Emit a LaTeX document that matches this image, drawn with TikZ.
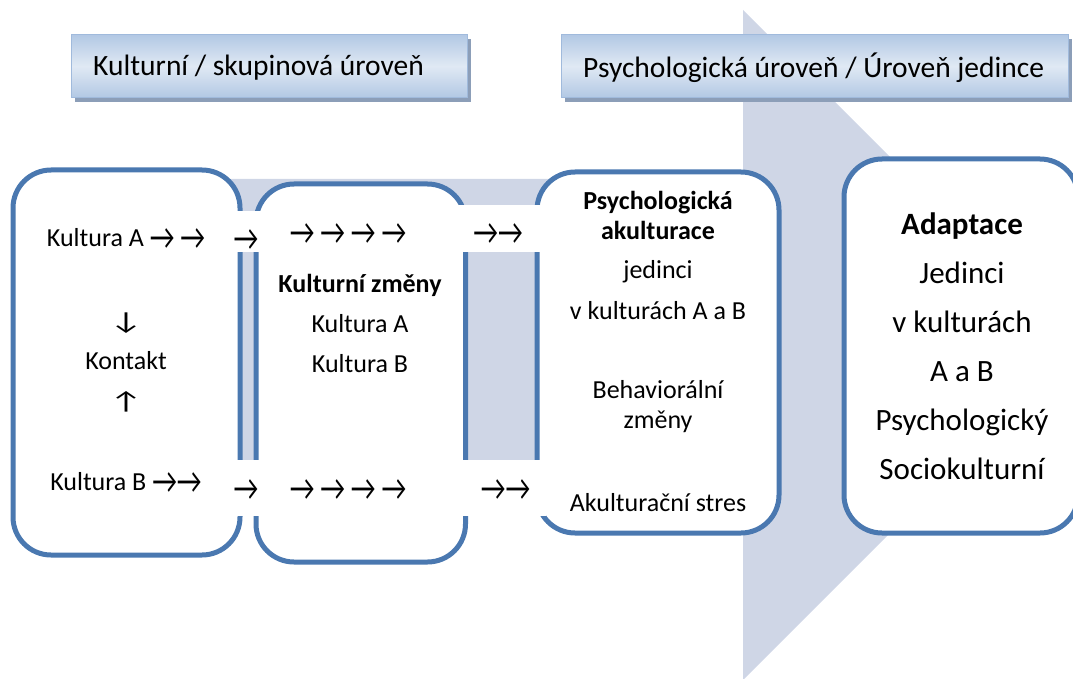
\documentclass[tikz,border=0pt]{standalone}
\usepackage{fontspec}
\usepackage{graphicx}
\setmainfont{Carlito}
\usetikzlibrary{positioning,shadows}
\definecolor{boxblue}{RGB}{74,120,176}
\definecolor{bandblue}{RGB}{207,214,230}
\definecolor{hdrlight}{RGB}{224,233,244}
\definecolor{hdrmid}{RGB}{178,200,228}
\definecolor{hdrline}{RGB}{160,186,220}
\definecolor{hdrshadow}{RGB}{140,158,184}
\tikzstyle{bigbox} = [rectangle, rounded corners=38pt, draw=boxblue, line width=5pt, fill=white]
\tikzstyle{header} = [rectangle, draw=hdrline, line width=1.2pt, top color=hdrmid, bottom color=hdrmid, middle color=hdrlight, minimum height=63pt, anchor=north west, drop shadow={shadow xshift=3pt, shadow yshift=-4pt, fill=hdrshadow, opacity=1}]
\tikzstyle{hdrtxt} = [inner sep=0pt, font=\fontsize{29.5}{35}\selectfont]
\tikzstyle{gap} = [rectangle, fill=white, inner sep=0pt]
\tikzstyle{txt} = [inner sep=0pt, align=center, font=\fontsize{26}{30}\selectfont]
\tikzstyle{bigtxt} = [inner sep=0pt, align=center, font=\fontsize{31}{49}\selectfont]
\newcommand{\sip}{\raisebox{-3.5pt}{\scalebox{1.05}[1.4]{→}}}
\newcommand{\sipdolu}{\scalebox{1.4}[0.95]{↓}}
\newcommand{\sipnahoru}{\scalebox{1.4}[0.95]{↑}}

\begin{document}
\begin{tikzpicture}[x=1pt, y=-1pt]
    \useasboundingbox (0,0) rectangle (1073,679);
    % velka sipka v pozadi
    \fill [bandblue] (30,179) -- (743,179) -- (743,10) -- (1078,345) -- (743,680) -- (743,511) -- (30,511) -- cycle;

    \node (hdrkult) [header, minimum width=396pt] at (71,34) {};
    \node (hdrkulttxt) [hdrtxt, right=22pt of hdrkult.west, yshift=-2pt] {Kulturní / skupinová úroveň};
    \node (hdrpsy) [header, minimum width=507pt] at (561,34) {};
    \node (hdrpsytxt) [hdrtxt, right=22pt of hdrpsy.west, yshift=-2pt] {Psychologická úroveň / Úroveň jedince};

    \node (kultbox) [bigbox, minimum width=227pt, minimum height=385pt] at (126.5,362.5) {};
    \node (zmenbox) [bigbox, minimum width=209.5pt, minimum height=378pt] at (360.75,373) {};
    \node (psybox) [bigbox, minimum width=242pt, minimum height=361pt] at (658,352.5) {};
    \node (adaptbox) [bigbox, minimum width=234pt, minimum height=374pt] at (961,346) {};

    \node (gapA) [gap, minimum width=36pt, minimum height=41pt] at (246,231.5) {};
    \node (gapB) [gap, minimum width=88pt, minimum height=47pt] at (502,228.5) {};
    \node (gapC) [gap, minimum width=318pt, minimum height=56pt] at (387,488) {};

    \node (kulta) [txt] at (126,239) {Kultura A \sip\ \sip};
    \node (kontakt) [txt, font=\fontsize{26}{40}\selectfont] at (126,362) {\sipdolu\\Kontakt\\\sipnahoru};
    \node (kultb) [txt] at (126,483) {Kultura B \sip\sip};

    \node (sipA1) [txt] at (246,240) {\sip};
    \node (sipA2) [txt] at (348,234) {\sip\ \sip\ \sip\ \sip};
    \node (sipA3) [txt] at (498,234) {\sip\sip};
    \node (sipB1) [txt] at (246,490) {\sip};
    \node (sipB2) [txt] at (348,490) {\sip\ \sip\ \sip\ \sip};
    \node (sipB3) [txt] at (505.5,490) {\sip\sip};

    \node (zmeny) [txt, font=\fontsize{26}{40}\selectfont] at (360,323) {\textbf{Kulturní změny}\\Kultura A\\Kultura B};

    \node (akult) [txt, font=\fontsize{26}{30}\selectfont\bfseries] at (658,215) {Psychologická\\akulturace};
    \node (jedinci) [txt, font=\fontsize{26}{41}\selectfont] at (658,290) {jedinci\\v kulturách A a B};
    \node (behav) [txt] at (658,407) {Behaviorální\\změny};
    \node (stres) [txt] at (658,503) {Akulturační stres};

    \node (adapt) [bigtxt] at (962,346) {\textbf{Adaptace}\\Jedinci\\v kulturách\\A a B\\Psychologický\\Sociokulturní};
\end{tikzpicture}
\end{document}
